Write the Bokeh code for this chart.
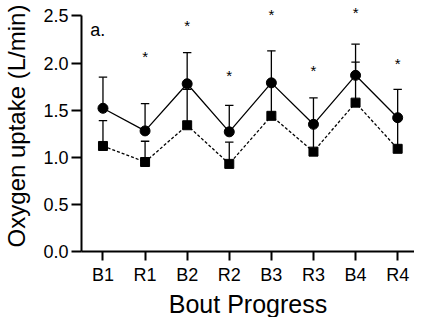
from bokeh.plotting import figure
from bokeh.models import Range1d, FixedTicker, Label, Title
from bokeh.core.properties import value
from bokeh.embed import file_html
from bokeh.resources import INLINE

# ---- data ----
categories = ["B1", "R1", "B2", "R2", "B3", "R3", "B4", "R4"]
circle_mean = [1.52, 1.28, 1.78, 1.27, 1.79, 1.35, 1.87, 1.42]
circle_err = [0.33, 0.29, 0.33, 0.28, 0.34, 0.28, 0.33, 0.30]
square_mean = [1.12, 0.95, 1.34, 0.93, 1.44, 1.06, 1.58, 1.09]
square_err = [0.27, 0.22, 0.38, 0.23, 0.33, 0.30, 0.43, 0.32]
star_cats = ["R1", "B2", "R2", "B3", "R3", "B4", "R4"]
star_y = [2.15, 2.48, 1.95, 2.60, 2.01, 2.62, 2.08]
y_ticks = [0.0, 0.5, 1.0, 1.5, 2.0, 2.5]
panel_label = "a."
x_title = "Bout Progress"
y_title = "Oxygen uptake (L/min)"

FONT = "Liberation Sans"
xs = list(range(len(categories)))
cap = 0.10

p = figure(width=414, height=317, output_backend="svg", toolbar_location=None,
           x_range=Range1d(-0.51, 7.40), y_range=Range1d(0, 2.664),
           min_border_top=0, min_border_right=0, min_border_left=0, min_border_bottom=0)
p.outline_line_color = None
p.xgrid.visible = False
p.ygrid.visible = False
p.background_fill_color = "white"
p.border_fill_color = "white"

def errbars(mean, err):
    top = [m + e for m, e in zip(mean, err)]
    p.segment(x0=xs, y0=mean, x1=xs, y1=top, line_color="black", line_width=1.3)
    p.segment(x0=[x - cap for x in xs], y0=top, x1=[x + cap for x in xs], y1=top,
              line_color="black", line_width=1.3)

errbars(square_mean, square_err)
errbars(circle_mean, circle_err)

p.line(xs, square_mean, line_color="black", line_width=1.3, line_dash="3 2")
p.line(xs, circle_mean, line_color="black", line_width=1.3)
p.scatter(xs, square_mean, marker="square", size=9, fill_color="black", line_color="black")
p.scatter(xs, circle_mean, marker="circle", size=10, fill_color="black", line_color="black")

star_x = [categories.index(c) for c in star_cats]
p.text(x=star_x, y=star_y, text=["*"] * len(star_x), text_align="center",
       text_baseline="middle", text_font=value(FONT), text_font_size="15px",
       text_color="black", y_offset=8)

p.add_layout(Label(x=-0.30, y=2.35, text=panel_label, text_font=FONT,
                   text_font_size="18px", text_color="black", text_baseline="alphabetic"))

p.xaxis.ticker = FixedTicker(ticks=xs)
p.xaxis.major_label_overrides = {i: c for i, c in enumerate(categories)}
p.yaxis.ticker = FixedTicker(ticks=y_ticks)
p.yaxis.major_label_overrides = {t: f"{t:.1f}" for t in y_ticks}
p.yaxis.bounds = (0, 2.5)
for ax in (p.xaxis[0], p.yaxis[0]):
    ax.axis_line_width = 2
    ax.axis_line_color = "black"
    ax.major_tick_line_width = 2
    ax.major_tick_line_color = "black"
    ax.major_tick_in = 0
    ax.major_tick_out = 10
    ax.minor_tick_line_color = None
    ax.major_label_text_font = FONT
    ax.major_label_text_font_size = "18px"
    ax.major_label_text_color = "black"
    ax.axis_label_text_font = FONT
    ax.axis_label_text_font_size = "24px"
    ax.axis_label_text_font_style = "normal"
    ax.axis_label_text_color = "black"
p.yaxis.axis_label = y_title
p.xaxis.major_tick_out = 9
p.xaxis.major_label_standoff = 4
p.yaxis.major_label_standoff = 3
p.yaxis.axis_label_standoff = 10

p.add_layout(Title(text=x_title, align="center", text_font=FONT, text_font_size="25px",
                   text_font_style="normal", text_color="black", standoff=0, offset=0),
             "below")

open("out.html", "w").write(file_html(p, INLINE))
